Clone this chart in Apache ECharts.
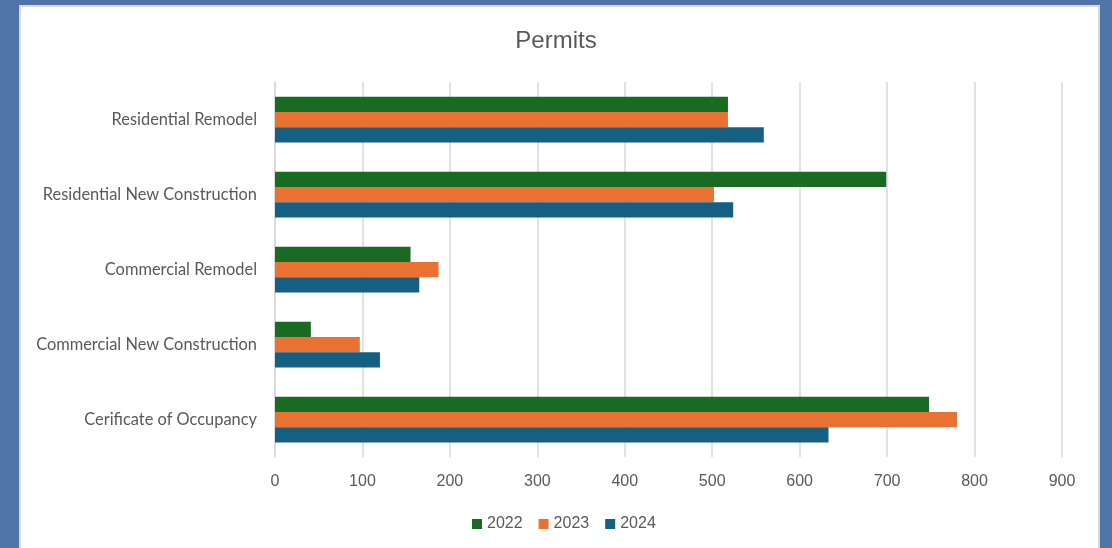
<!DOCTYPE html>
<html>
<head>
<meta charset="utf-8">
<script src="https://cdn.jsdelivr.net/npm/echarts@6/dist/echarts.min.js"></script>
<style>
  html, body { margin: 0; padding: 0; width: 1112px; height: 548px; overflow: hidden; background: #5174a8; }
  #panel { position: absolute; left: 19px; top: 5px; width: 1077px; height: 600px; background: #fff; border: 2px solid #d9d9d9; box-sizing: content-box; }
  #chart { position: absolute; left: 0; top: 0; width: 1112px; height: 548px; }
</style>
</head>
<body>
<div id="panel"></div>
<div id="chart"></div>
<script>
const categories = ["Residential Remodel", "Residential New Construction", "Commercial Remodel", "Commercial New Construction", "Cerificate of Occupancy"];
const seriesNames = ["2022", "2023", "2024"];
const values2022 = [518, 699, 155, 41, 748];
const values2023 = [518, 502, 187, 97, 780];
const values2024 = [559, 524, 165, 120, 633];
const xTicks = [0, 100, 200, 300, 400, 500, 600, 700, 800, 900];
const colors = ["#196b24", "#e97132", "#156082"];

const chart = echarts.init(document.getElementById('chart'), null, { renderer: 'canvas' });
const allValues = [values2022, values2023, values2024];
chart.setOption({
  backgroundColor: 'transparent',
  animation: false,
  title: {
    text: 'Permits', left: 'center', top: 24,
    textStyle: { fontFamily: 'Liberation Sans', fontSize: 24, fontWeight: 'normal', color: '#595959' }
  },
  legend: {
    bottom: 11, left: 467, itemWidth: 10, itemHeight: 10, itemGap: 16,
    icon: 'rect',
    data: seriesNames,
    textStyle: { fontFamily: 'Liberation Sans', fontSize: 16, color: '#595959' }
  },
  grid: { left: 275, right: 50, top: 82, bottom: 91, containLabel: false },
  xAxis: {
    type: 'value', min: xTicks[0], max: xTicks[xTicks.length - 1], interval: 100,
    axisLine: { show: false }, axisTick: { show: false },
    axisLabel: { fontFamily: 'Liberation Sans', fontSize: 16, color: '#595959', margin: 17 },
    splitLine: { lineStyle: { color: '#d9d9d9', width: 1.5 } }
  },
  yAxis: {
    type: 'category', data: categories, inverse: true,
    axisLine: { show: true, lineStyle: { color: '#d9d9d9', width: 1.5 } },
    axisTick: { show: false },
    axisLabel: { fontFamily: 'Lato', fontSize: 16.4, color: '#595959', margin: 18 }
  },
  series: seriesNames.map((n, i) => ({
    name: n, type: 'bar', data: allValues[i],
    barGap: '0%', barCategoryGap: '39%',
    itemStyle: { color: colors[i] }
  }))
});
</script>
</body>
</html>
